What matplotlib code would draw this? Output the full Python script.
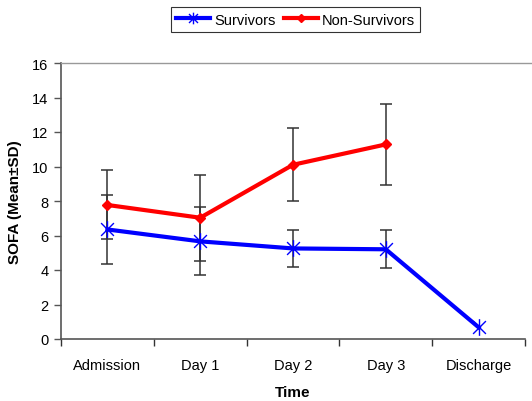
import matplotlib.pyplot as plt
import numpy as np
from matplotlib.path import Path
from matplotlib.lines import Line2D

plt.rcParams['font.family'] = ['Liberation Sans', 'DejaVu Sans']

# SOFA scores per time point
days = ['Admission', 'Day 1', 'Day 2', 'Day 3', 'Discharge']
surv_mean = [6.35, 5.66, 5.25, 5.2, 0.68]
surv_sd = [2.0, 1.97, 1.05, 1.1, 0.0]
nonsurv_mean = [7.77, 7.03, 10.1, 11.28]
nonsurv_sd = [2.0, 2.5, 2.12, 2.33]

# Excel-style star: an X with a vertical stroke through it
star = Path([(-1, -1), (1, 1), (-1, 1), (1, -1), (0, -1.3), (0, 1.3)],
            [Path.MOVETO, Path.LINETO, Path.MOVETO, Path.LINETO,
             Path.MOVETO, Path.LINETO])

W, H = 532, 402
fig = plt.figure(figsize=(W / 100, H / 100), dpi=100)
ax = fig.add_axes([61/W, 62/H, 464/W, 276/H])

x = np.arange(len(days))
xn = np.arange(len(nonsurv_mean))

# error bars first so the lines sit on top
ax.errorbar(x[:4], surv_mean[:4], yerr=surv_sd[:4], fmt='none', ecolor='#333333',
            elinewidth=1.1, capsize=4, capthick=1.1, zorder=2)
ax.errorbar(xn, nonsurv_mean, yerr=nonsurv_sd, fmt='none', ecolor='#333333',
            elinewidth=1.1, capsize=4, capthick=1.1, zorder=2)

ax.plot(x, surv_mean, color='#0000ff', lw=3, marker=star, ms=12,
        mew=1.0, mec='#0000ff', label='Survivors', zorder=3)
ax.plot(xn, nonsurv_mean, color='#ff0000', lw=3, marker='D', ms=5.5,
        mec='#ff0000', label='Non-Survivors', zorder=4)

ax.set_xlim(-0.5, len(days) - 0.5)
ax.set_ylim(0, 16)
ax.set_yticks(range(0, 17, 2))
ax.set_xticks(x)
ax.set_xticklabels(days)
ax.set_xticks(np.arange(-0.5, len(days), 1), minor=True)
ax.tick_params(axis='x', which='major', length=0, pad=14, labelsize=10.5)
ax.tick_params(axis='x', which='minor', length=5, color='#333333', width=1)
ax.tick_params(axis='y', length=5, color='#555555', width=1, labelsize=10.5, pad=4)

for side in ['left', 'bottom']:
    ax.spines[side].set_color('#555555')
    ax.spines[side].set_linewidth(1.2)
ax.spines['top'].set_visible(False)
ax.spines['right'].set_visible(False)

# plot-area border runs on to the right edge of the figure
top = 1 - 64 / H
fig.add_artist(Line2D([61 / W, 1.0], [top, top], color='#999999', lw=1.0))

ax.set_ylabel('SOFA (Mean±SD)', fontweight='bold', fontsize=11)
ax.yaxis.set_label_coords(-0.084, 0.5)
ax.set_xlabel('Time', fontweight='bold', fontsize=11)
ax.xaxis.set_label_coords(0.5, -0.165)

leg = fig.legend(loc='center', bbox_to_anchor=(0.556, 0.949), ncol=2,
                 frameon=True, fancybox=False, edgecolor='black',
                 fontsize=10.5, handlelength=2.3, columnspacing=0.6,
                 handletextpad=0.3, borderpad=0.35, borderaxespad=0,
                 markerscale=0.7)
leg.get_frame().set_linewidth(0.8)

fig.savefig('out.png', dpi=100)
